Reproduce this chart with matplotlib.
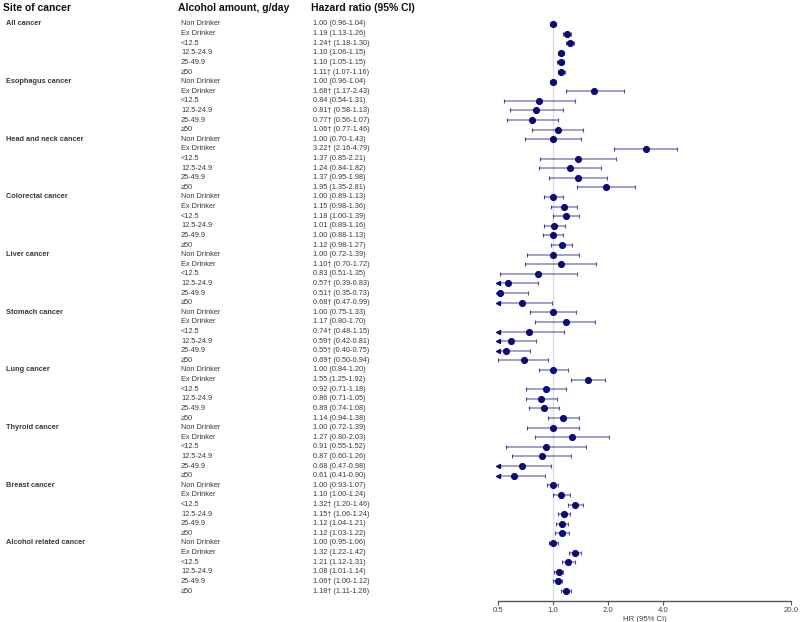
import matplotlib
matplotlib.use("Agg")
import matplotlib.pyplot as plt
import matplotlib.transforms as mtransforms
import numpy as np

plt.rcParams["font.family"] = ["Liberation Sans", "DejaVu Sans"]

# ---------------------------------------------------------------------------
# Data
# ---------------------------------------------------------------------------
SITES = [
    "All cancer", "Esophagus cancer", "Head and neck cancer", "Colorectal cancer",
    "Liver cancer", "Stomach cancer", "Lung cancer", "Thyroid cancer",
    "Breast cancer", "Alcohol related cancer",
]
AMOUNTS = ["Non Drinker", "Ex Drinker", "<12.5", "12.5-24.9", "25-49.9", "≥50"]

HR = [
    1.00, 1.19, 1.24, 1.10, 1.10, 1.11,
    1.00, 1.68, 0.84, 0.81, 0.77, 1.06,
    1.00, 3.22, 1.37, 1.24, 1.37, 1.95,
    1.00, 1.15, 1.18, 1.01, 1.00, 1.12,
    1.00, 1.10, 0.83, 0.57, 0.51, 0.68,
    1.00, 1.17, 0.74, 0.59, 0.55, 0.69,
    1.00, 1.55, 0.92, 0.86, 0.89, 1.14,
    1.00, 1.27, 0.91, 0.87, 0.68, 0.61,
    1.00, 1.10, 1.32, 1.15, 1.12, 1.12,
    1.00, 1.32, 1.21, 1.08, 1.06, 1.18,
]
LOWER = [
    0.96, 1.13, 1.18, 1.06, 1.05, 1.07,
    0.96, 1.17, 0.54, 0.58, 0.56, 0.77,
    0.70, 2.16, 0.85, 0.84, 0.95, 1.35,
    0.89, 0.98, 1.00, 0.89, 0.88, 0.98,
    0.72, 0.70, 0.51, 0.39, 0.35, 0.47,
    0.75, 0.80, 0.48, 0.42, 0.40, 0.50,
    0.84, 1.25, 0.71, 0.71, 0.74, 0.94,
    0.72, 0.80, 0.55, 0.60, 0.47, 0.41,
    0.93, 1.00, 1.20, 1.06, 1.04, 1.03,
    0.95, 1.22, 1.12, 1.01, 1.00, 1.11,
]
UPPER = [
    1.04, 1.26, 1.30, 1.15, 1.15, 1.16,
    1.04, 2.43, 1.31, 1.13, 1.07, 1.46,
    1.43, 4.79, 2.21, 1.82, 1.98, 2.81,
    1.13, 1.36, 1.39, 1.16, 1.13, 1.27,
    1.39, 1.72, 1.35, 0.83, 0.73, 0.99,
    1.33, 1.70, 1.15, 0.81, 0.75, 0.94,
    1.20, 1.92, 1.18, 1.05, 1.08, 1.38,
    1.39, 2.03, 1.52, 1.26, 0.98, 0.90,
    1.07, 1.24, 1.46, 1.24, 1.21, 1.22,
    1.06, 1.42, 1.31, 1.14, 1.12, 1.26,
]
DAGGER = [
    0, 0, 1, 0, 0, 1,
    0, 1, 0, 1, 1, 1,
    0, 1, 0, 0, 0, 0,
    0, 0, 0, 0, 0, 0,
    0, 1, 0, 1, 1, 1,
    0, 0, 1, 1, 1, 1,
    0, 0, 0, 0, 0, 0,
    0, 0, 0, 0, 0, 0,
    0, 0, 1, 1, 0, 0,
    0, 0, 0, 0, 1, 1,
]
XTICKS = [0.5, 1.0, 2.0, 4.0, 20.0]

NAVY = "#0b0b78"
XMIN, XMAX = 0.5, 20.0

fig = plt.figure(figsize=(8, 6.22), dpi=100)
ax = fig.add_axes([498 / 800, 21 / 622, 293 / 800, 587 / 622])

n = len(HR)
rows = np.arange(n)
hr = np.array(HR)
lo = np.array(LOWER)
hi = np.array(UPPER)
lo_c = np.clip(lo, XMIN, None)
clipped = lo < XMIN

# reference line at HR = 1
ax.plot([1, 1], [-0.45, 60.04], color="#dcdcec", linewidth=1.0, zorder=1, clip_on=False)

# confidence intervals
ax.hlines(rows, lo_c, hi, color=NAVY, alpha=0.5, linewidth=1.1, zorder=2)
ax.scatter(hi, rows, marker="|", s=8, color=NAVY, alpha=0.7, linewidths=0.8, zorder=3)
ax.scatter(lo_c[~clipped], rows[~clipped], marker="|", s=8, color=NAVY, alpha=0.7,
           linewidths=0.8, zorder=3)
ax.scatter(lo_c[clipped], rows[clipped], marker="<", s=8, color=NAVY, zorder=3,
           clip_on=False)
ax.scatter(np.clip(hr, XMIN, None), rows, marker="o", s=17, color=NAVY, zorder=4,
           clip_on=False)

ax.set_xscale("log", base=2)
ax.set_xlim(XMIN, XMAX)
ax.set_ylim(60.04, -1.04)
ax.set_xticks(XTICKS)
ax.set_xticklabels([f"{t:.1f}" for t in XTICKS])
ax.xaxis.set_minor_locator(matplotlib.ticker.NullLocator())
ax.set_yticks([])
for side in ("top", "right", "left"):
    ax.spines[side].set_visible(False)
ax.spines["bottom"].set_color("#555555")
ax.spines["bottom"].set_linewidth(1.0)
ax.tick_params(axis="x", length=3, width=0.8, color="#555555", labelsize=5.6,
               labelcolor="#444444", pad=1.5)
ax.set_xlabel("HR (95% CI)", fontsize=5.6, color="#444444", labelpad=1.5)

# table text
trans = mtransforms.blended_transform_factory(fig.transFigure, ax.transData)
head_y = -1.66
hkw = dict(transform=trans, fontsize=7.5, fontweight="bold", color="#111111", va="center")
ax.text(3 / 800, head_y, "Site of cancer", **hkw)
ax.text(178 / 800, head_y, "Alcohol amount, g/day", **hkw)
ax.text(311 / 800, head_y, "Hazard ratio (95% CI)", **hkw)

tkw = dict(transform=trans, fontsize=5.3, color="#3a3a3a", va="center")
for g, site in enumerate(SITES):
    ax.text(6 / 800, g * len(AMOUNTS), site, fontweight="bold", **tkw)
for i in range(n):
    ax.text(181 / 800, i, AMOUNTS[i % len(AMOUNTS)], **tkw)
    mark = "†" if DAGGER[i] else ""
    ax.text(313 / 800, i, f"{HR[i]:.2f}{mark} ({LOWER[i]:.2f}-{UPPER[i]:.2f})", **tkw)

fig.savefig("out.png", dpi=100)
